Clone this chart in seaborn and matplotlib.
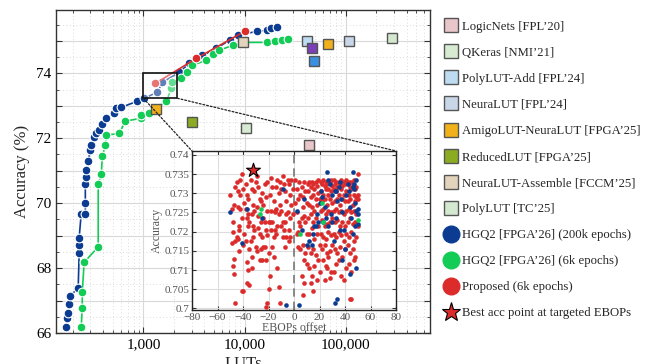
import matplotlib
matplotlib.use("Agg")
import matplotlib.pyplot as plt
import numpy as np
import pandas as pd
import seaborn as sns
from matplotlib.lines import Line2D
from matplotlib.patches import Rectangle, ConnectionPatch
from matplotlib.ticker import FuncFormatter, MultipleLocator, LogLocator, NullFormatter

# HGQ2 [FPGA'26] (200k epochs) Pareto curve
hgq_200k_luts = [173, 177, 181, 185, 189, 227, 232, 232, 232, 243, 267, 267, 267, 270, 273, 285,
                 299, 306, 327, 343, 367, 393, 430, 516, 540, 605, 872, 1023, 1376, 1542,
                 2271, 2853, 3839, 5280, 7100, 8530, 13150, 16520, 18080, 20750]
hgq_200k_acc = [66.18, 66.46, 66.62, 66.89, 67.14, 67.39, 68.46, 68.71, 68.93, 69.67, 69.67, 70.0,
                70.59, 70.80, 71.02, 71.29, 71.63, 71.78, 72.03, 72.15, 72.25, 72.43, 72.62,
                72.77, 72.92, 72.95, 73.14, 73.23, 73.42, 73.72, 74.03, 74.31, 74.55, 74.77,
                75.02, 75.17, 75.29, 75.32, 75.38, 75.42]

# HGQ2 [FPGA'26] (6k epochs)
hgq_6k_luts = [243, 249, 249, 260, 358, 358, 384, 393, 421, 430, 579, 663, 955, 955, 1147, 1690,
               1893, 1937, 2377, 2727, 3058, 4201, 4825, 5650, 7620, 9550, 16520, 19850, 23300, 26700]
hgq_6k_acc = [66.18, 66.77, 67.26, 68.18, 68.65, 70.59, 70.89, 71.45, 71.78, 72.09, 72.15, 72.52,
              72.62, 72.71, 72.77, 73.14, 73.54, 73.72, 73.85, 74.03, 74.25, 74.40, 74.58, 74.71,
              74.86, 74.95, 74.95, 74.98, 75.02, 75.05]

# Proposed (6k epochs)
prop_luts = [1315, 3350, 10000]
prop_acc = [73.69, 74.46, 75.29]

# prior works (name, LUTs, accuracy, colour)
prior_names = ["LogicNets [FPL'20]", "QKeras [NMI'21]", "PolyLUT-Add [FPL'24]", "NeuraLUT [FPL'24]",
               "AmigoLUT-NeuraLUT [FPGA'25]", "AmigoLUT-NeuraLUT [FPGA'25]", "ReducedLUT [FPGA'25]",
               "NeuraLUT-Assemble [FCCM'25]", "PolyLUT [TC'25]", "other-a", "other-b"]
prior_luts = [43000, 10230, 41100, 107000, 1345, 66400, 3055, 9550, 285400, 46000, 48200]
prior_acc = [71.78, 72.31, 74.98, 74.98, 72.89, 74.89, 72.49, 74.95, 75.08, 74.77, 74.37]
prior_colors = ["#e9c6ca", "#d7ebd3", "#bddcf1", "#c8d6e7", "#f0b11a", "#f0b11a", "#8bab22",
                "#e2d3bc", "#d3e8cf", "#7b3fb8", "#3a8fe0"]
legend_names = ["LogicNets [FPL\u201920]", "QKeras [NMI\u201921]", "PolyLUT-Add [FPL\u201924]",
                "NeuraLUT [FPL\u201924]", "AmigoLUT-NeuraLUT [FPGA\u201925]", "ReducedLUT [FPGA\u201925]",
                "NeuraLUT-Assemble [FCCM\u201925]", "PolyLUT [TC\u201925]"]
legend_colors = ["#e9c6ca", "#d7ebd3", "#bddcf1", "#c8d6e7", "#f0b11a", "#8bab22", "#e2d3bc", "#d3e8cf"]

# inset: EBOPs offset vs accuracy
red_off = [-50, -49, -48, -47, -48, -47, -46, -45, -44, -43, -45, -46, -47, -46, -44, -42, -41, -42,
           -41, -40, -41, -40, -43, -44, -48, -49, -42, -40, -43,
           -38, -37, -36, -38, -37, -36, -39, -38, -35, -37, -36, -37, -35, -33, -34, -32, -33, -32,
           -31, -33, -34, -30, -31, -35, -39, -32, -30, -36, -31, -33,
           -29, -28, -27, -29, -28, -26, -27, -29, -26, -25, -24, -22, -23, -24, -25, -23, -21, -22,
           -21, -20, -21, -20, -22, -19, -20, -21, -22, -26, -24, -28, -25, -27, -23,
           -18, -17, -19, -16, -18, -17, -15, -16, -14, -13, -12, -11, -12, -14, -13, -11, -10, -15,
           -19, -18, -16, -13, -12, -11, -15, -10, -17, -14,
           -9, -8, -7, -6, -5, -7, -8, -9, -6, -4, -3, -2, -3, -1, -2, -4, -5, -6, -9, -1, -4, -10, -7, -3,
           1, 2, 3, 1, 2, 4, 3, 5, 6, 7, 5, 6, 8, 9, 7, 4, 3, 5, 7, 8, 6, 9, 8, 7, 10, 9, 10, 2, 8,
           11, 12, 13, 14, 15, 16, 17, 18, 19, 11, 13, 15, 17, 19, 12, 14, 16, 18, 20, 11, 13, 15, 17,
           19, 12, 14, 16, 18, 11, 13, 15, 17, 19, 12, 14, 16, 18, 20, 13, 15, 20, 10,
           21, 22, 23, 24, 25, 26, 27, 28, 29, 30, 21, 23, 25, 27, 29, 22, 24, 26, 28, 30, 21, 23, 25,
           27, 29, 22, 24, 26, 28, 30, 21, 23, 25, 27, 29, 22, 24, 26, 28, 30, 23, 25, 27, 29, 24, 28, 26,
           31, 32, 33, 34, 35, 36, 37, 38, 39, 40, 31, 33, 35, 37, 39, 32, 34, 36, 38, 40, 31, 33, 35,
           37, 39, 32, 34, 36, 38, 40, 31, 33, 35, 37, 39, 32, 34, 36, 38, 40, 33, 35, 37, 31, 39,
           41, 42, 43, 44, 45, 46, 47, 48, 49, 50, 41, 43, 45, 47, 49, 50, 42, 44, 46, 48, 50, 41, 43,
           45, 47, 49, 42, 44, 46, 48, 50, 41, 43, 45, 47, 42, 44, 46, 48, 43, 45, 47, 44, 45, 41, 49]
red_acc = [0.7295, 0.717, 0.711, 0.709, 0.7225, 0.727, 0.7315, 0.733, 0.7265, 0.7215, 0.7185, 0.7175,
           0.713, 0.7015, 0.718, 0.7335, 0.735, 0.7295, 0.7235, 0.7165, 0.7045, 0.7045, 0.7205,
           0.7305, 0.72, 0.726, 0.726, 0.731, 0.715,
           0.7325, 0.7295, 0.7285, 0.726, 0.7235, 0.7215, 0.7195, 0.7175, 0.7155, 0.712, 0.71, 0.7065,
           0.706, 0.7135, 0.7175, 0.7215, 0.7245, 0.727, 0.7305, 0.731, 0.7335, 0.733, 0.7255, 0.7225,
           0.7275, 0.7185, 0.716, 0.7245, 0.7205, 0.7105,
           0.7345, 0.7315, 0.7285, 0.7265, 0.724, 0.7225, 0.7195, 0.715, 0.7155, 0.7125, 0.716, 0.7205,
           0.7225, 0.727, 0.73, 0.7325, 0.733, 0.729, 0.7255, 0.7225, 0.719, 0.7145, 0.7125, 0.7085,
           0.705, 0.7015, 0.7005, 0.728, 0.7235, 0.721, 0.7185, 0.7125, 0.716,
           0.734, 0.7315, 0.7295, 0.728, 0.7255, 0.7225, 0.7205, 0.7185, 0.7195, 0.7215, 0.7245, 0.727,
           0.73, 0.7315, 0.7335, 0.733, 0.731, 0.725, 0.7225, 0.7205, 0.7135, 0.7105, 0.7055, 0.7015,
           0.7255, 0.7255, 0.716, 0.726,
           0.7345, 0.7325, 0.7305, 0.728, 0.725, 0.7225, 0.7205, 0.7185, 0.7185, 0.7205, 0.7235, 0.727,
           0.7295, 0.731, 0.7335, 0.7325, 0.7335, 0.7245, 0.7225, 0.7245, 0.7175, 0.7215, 0.716, 0.7185,
           0.7335, 0.731, 0.7285, 0.7275, 0.725, 0.7225, 0.72, 0.7215, 0.7235, 0.7265, 0.7295, 0.7315,
           0.733, 0.7305, 0.729, 0.733, 0.716, 0.7155, 0.7165, 0.7125, 0.7085, 0.7145, 0.7065, 0.7035,
           0.7195, 0.7225, 0.7275, 0.7195, 0.724,
           0.7325, 0.733, 0.7315, 0.733, 0.7325, 0.731, 0.733, 0.732, 0.7335, 0.7305, 0.729, 0.7295,
           0.7285, 0.73, 0.727, 0.7265, 0.7255, 0.727, 0.7285, 0.7235, 0.7245, 0.7225, 0.7235, 0.7215,
           0.7195, 0.721, 0.718, 0.7195, 0.716, 0.7145, 0.7155, 0.714, 0.7125, 0.7105, 0.7085, 0.711,
           0.7075, 0.7095, 0.7065, 0.7045, 0.7165, 0.7115,
           0.733, 0.7325, 0.7335, 0.732, 0.733, 0.7325, 0.731, 0.733, 0.7335, 0.732, 0.7305, 0.7295,
           0.731, 0.7295, 0.7305, 0.728, 0.7285, 0.727, 0.7285, 0.7275, 0.7255, 0.726, 0.7245, 0.7255,
           0.725, 0.723, 0.7215, 0.722, 0.7225, 0.7235, 0.7195, 0.7185, 0.718, 0.72, 0.719, 0.7155,
           0.7165, 0.7145, 0.715, 0.7165, 0.7125, 0.711, 0.7135, 0.7095, 0.7075, 0.708, 0.7105,
           0.7335, 0.7325, 0.733, 0.7315, 0.733, 0.7325, 0.7335, 0.732, 0.733, 0.7325, 0.731, 0.7305,
           0.7295, 0.731, 0.7295, 0.728, 0.7285, 0.727, 0.7285, 0.728, 0.7255, 0.726, 0.725, 0.7255,
           0.7245, 0.7225, 0.723, 0.7215, 0.7225, 0.7215, 0.7195, 0.7185, 0.72, 0.719, 0.7175, 0.7155,
           0.7145, 0.716, 0.7135, 0.7155, 0.7115, 0.7125, 0.7085, 0.7095, 0.7075,
           0.7335, 0.7325, 0.733, 0.7315, 0.733, 0.7325, 0.7335, 0.731, 0.7315, 0.735, 0.7305, 0.7295,
           0.731, 0.7295, 0.729, 0.7295, 0.728, 0.7285, 0.727, 0.728, 0.7285, 0.7255, 0.726, 0.725,
           0.7255, 0.7245, 0.7225, 0.7235, 0.722, 0.7225, 0.7215, 0.7195, 0.7185, 0.72, 0.7175, 0.7165,
           0.7145, 0.7155, 0.7135, 0.7115, 0.7095, 0.7125, 0.7025, 0.7025, 0.7105, 0.7185]
blue_off = [-50, -41, -37, -25, -6, -9, 2, 4, 6, 8, 10, 12, 15, 17, 18, 20, 22, 24, 26, 25, 27, 28,
            29, 30, 31, 32, 34, 33, 34, 35, 36, 37, 38, 39, 40, 41, 42, 43, 44, 45, 46, 46, 47, 48,
            49, 50, 49, 50, 48, 47, 44, 38, 36, 23, 19, 14, 16, 21, 27, 30, 32, 33, 46, 49, 50]
blue_acc = [0.725, 0.717, 0.726, 0.7235, 0.701, 0.731, 0.7255, 0.701, 0.7205, 0.7285, 0.7165, 0.7175,
            0.7195, 0.7215, 0.7245, 0.7275, 0.729, 0.7265, 0.7355, 0.7235, 0.7215, 0.7325, 0.7245,
            0.7225, 0.7175, 0.7015, 0.7025, 0.7305, 0.728, 0.7315, 0.733, 0.7285, 0.725, 0.7205,
            0.7155, 0.7295, 0.7325, 0.7305, 0.7265, 0.7235, 0.7355, 0.7195, 0.731, 0.7275, 0.7255,
            0.7245, 0.7105, 0.726, 0.7215, 0.7325, 0.709, 0.7125, 0.7205, 0.7225, 0.7225, 0.7165,
            0.7215, 0.7305, 0.7335, 0.7295, 0.7305, 0.7235, 0.7315, 0.7335, 0.722]
green_off = [-26, -27, 5, 22, 23, 50]
green_acc = [0.726, 0.7245, 0.7195, 0.7275, 0.7225, 0.723]
best_off = [-32]
best_acc = [0.736]

C_BLUE = "#0c3c92"
C_GREEN = "#12cc55"
C_RED = "#dc2b2b"

sns.set_style("ticks")
plt.rcParams["font.family"] = ["Liberation Serif", "DejaVu Serif"]

fig = plt.figure(figsize=(6.52, 3.64), dpi=100)
ax = fig.add_axes([0.0859, 0.0852, 0.5736, 0.8874])

line_kw = dict(sort=False, estimator=None, lw=1.2, marker="o", markersize=6.3,
               markeredgecolor="white", markeredgewidth=0.8, ax=ax)
sns.lineplot(x=hgq_200k_luts, y=hgq_200k_acc, color=C_BLUE, zorder=3, **line_kw)
sns.lineplot(x=hgq_6k_luts, y=hgq_6k_acc, color=C_GREEN, zorder=3, **line_kw)
sns.lineplot(x=prop_luts, y=prop_acc, color=C_RED, zorder=4, **line_kw)

prior = pd.DataFrame({"luts": prior_luts, "acc": prior_acc, "name": prior_names})
for i, row in prior.iterrows():
    ax.plot(row["luts"], row["acc"], marker="s", markersize=7.5, color=prior_colors[i],
            markeredgecolor="#555555", markeredgewidth=1.0, ls="none", zorder=5)

ax.set_xscale("log")
ax.set_xlim(137, 680000)
ax.set_ylim(66, 75.95)
ax.xaxis.set_major_locator(LogLocator(base=10, numticks=10))
ax.xaxis.set_minor_locator(LogLocator(base=10, subs=np.arange(2, 10), numticks=20))
ax.xaxis.set_minor_formatter(NullFormatter())
ax.xaxis.set_major_formatter(FuncFormatter(lambda v, p: f"{int(round(v)):,}" if 500 < v < 500000 else ""))
ax.yaxis.set_major_locator(MultipleLocator(1))
ax.yaxis.set_minor_locator(MultipleLocator(0.5))
ax.yaxis.set_major_formatter(FuncFormatter(lambda v, p: f"{int(round(v))}" if round(v) % 2 == 0 else ""))
ax.grid(which="major", color="#d9d9d9", lw=0.8, ls="-")
ax.grid(which="minor", color="#d0d0d0", lw=0.6, ls=(0, (1, 3)))
ax.tick_params(which="both", direction="in", top=True, right=True, colors="#333333",
               labelsize=11, labelcolor="black")
ax.tick_params(which="major", length=4)
ax.tick_params(which="minor", length=2)
for s in ax.spines.values():
    s.set_color("#333333")
    s.set_linewidth(1.0)
ax.set_xlabel("LUTs", fontsize=12, labelpad=4)
ax.set_ylabel("Accuracy (%)", fontsize=12, labelpad=4)

# zoom box
zx0, zx1, zy0, zy1 = 1000, 2170, 73.23, 74.0
ax.add_patch(Rectangle((zx0, zy0), zx1 - zx0, zy1 - zy0, facecolor="white", alpha=0.35,
                       edgecolor="none", zorder=6))
ax.add_patch(Rectangle((zx0, zy0), zx1 - zx0, zy1 - zy0, facecolor="none",
                       edgecolor="#111111", lw=1.2, zorder=7))

# inset
axin = fig.add_axes([0.2945, 0.1484, 0.3129, 0.4368])
axin.set_facecolor("white")
sns.scatterplot(x=red_off, y=red_acc, color=C_RED, s=11, linewidth=0, ax=axin, zorder=3)
sns.scatterplot(x=blue_off, y=blue_acc, color=C_BLUE, s=11, linewidth=0, ax=axin, zorder=4)
sns.scatterplot(x=green_off, y=green_acc, color=C_GREEN, s=11, linewidth=0, ax=axin, zorder=5)
sns.scatterplot(x=best_off, y=best_acc, color=C_RED, marker="*", s=110, edgecolor="black",
                linewidth=0.8, ax=axin, zorder=6)
axin.axvline(0, color="#777777", ls=(0, (5, 3)), lw=1.2, zorder=2)
axin.set_xlim(-80, 80)
axin.set_ylim(0.6996, 0.741)
axin.xaxis.set_major_locator(MultipleLocator(20))
axin.yaxis.set_major_locator(MultipleLocator(0.005))
axin.yaxis.set_major_formatter(FuncFormatter(lambda v, p: f"{v:.3f}".rstrip("0").rstrip(".")))
axin.grid(which="major", color="#dddddd", lw=0.8)
axin.tick_params(direction="in", top=True, right=True, length=3, labelsize=8,
                 labelcolor="#555555", colors="#333333", pad=2)
for s in axin.spines.values():
    s.set_color("#222222")
    s.set_linewidth(1.0)
axin.set_xlabel("EBOPs offset", fontsize=8.5, color="#555555", labelpad=0)
axin.set_ylabel("Accuracy", fontsize=8.5, color="#555555", labelpad=1)
axin.set_zorder(10)

# connectors
for (cx, cy), (ix, iy) in [((zx0, zy0), (0, 1)), ((zx1, zy0), (1, 1))]:
    con = ConnectionPatch(xyA=(cx, cy), coordsA=ax.transData, xyB=(ix, iy), coordsB=axin.transAxes,
                          ls=(0, (1.5, 1.5)), lw=0.9, color="#222222", zorder=8)
    fig.add_artist(con)

# legend
handles = [Line2D([], [], marker="s", ls="none", markersize=10, color=c, markeredgecolor="#555555",
                  markeredgewidth=1.0) for c in legend_colors]
handles += [Line2D([], [], marker="o", ls="none", markersize=12, color=C_BLUE),
            Line2D([], [], marker="o", ls="none", markersize=12, color=C_GREEN),
            Line2D([], [], marker="o", ls="none", markersize=12, color=C_RED),
            Line2D([], [], marker="*", ls="none", markersize=14, color=C_RED,
                   markeredgecolor="black", markeredgewidth=0.8)]
labels = legend_names + ["HGQ2 [FPGA\u201926] (200k epochs)", "HGQ2 [FPGA\u201926] (6k epochs)",
                         "Proposed (6k epochs)", "Best acc point at targeted EBOPs"]
fig.legend(handles, labels, loc="upper left", bbox_to_anchor=(0.674, 0.957), frameon=False,
           fontsize=9.2, handlelength=1.0, handletextpad=0.35, labelspacing=1.1, borderaxespad=0)

fig.savefig("out.png", dpi=100)
